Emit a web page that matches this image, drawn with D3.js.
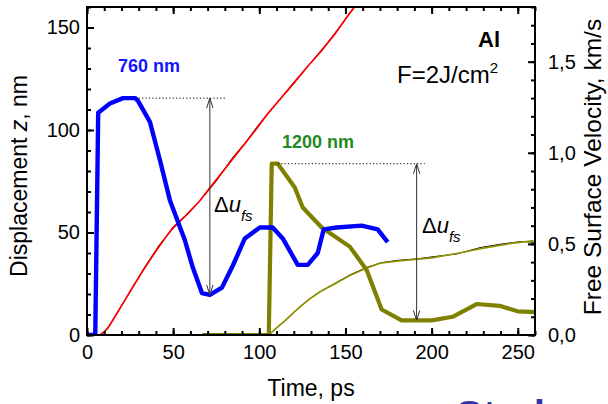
<!DOCTYPE html>
<html>
<head>
<meta charset="utf-8">
<script src="https://cdn.jsdelivr.net/npm/d3@7/dist/d3.min.js"></script>
<style>
  html, body { margin: 0; padding: 0; background: #fff; }
  svg { display: block; font-family: "Liberation Sans", Arial, sans-serif; }
</style>
</head>
<body>
<svg id="chart" width="608" height="404"></svg>
<script>
// Time axis (ps) and tick labels
const timeTicks = [0, 50, 100, 150, 200, 250];
const dispTicks = [0, 50, 100, 150];
const velTicks = [0, 0.5, 1.0, 1.5];
const velTickLabels = ["0,0", "0,5", "1,0", "1,5"];

// Free surface velocity, 760 nm film (km/s)
const blueTime = [0, 4.8, 6.5, 13.3, 20.9, 25, 28, 29.6, 36.5, 42.3, 48.1, 56.8, 61.4, 66.7, 71.3, 78.3, 84.6, 91.6, 100.3, 107.8, 113.6, 122.3, 128.1, 133.9, 137.4, 144.9, 159.4, 168.7, 174.5];
const blueVel  = [0, 0, 1.22, 1.27, 1.30, 1.30, 1.30, 1.285, 1.17, 0.96, 0.74, 0.52, 0.37, 0.23, 0.22, 0.26, 0.38, 0.53, 0.59, 0.59, 0.53, 0.385, 0.385, 0.45, 0.58, 0.59, 0.60, 0.58, 0.51];

// Free surface velocity, 1200 nm film (km/s)
const oliveTime = [67, 105.5, 107.2, 110.7, 120.6, 125.2, 136.2, 152.5, 162.3, 171, 182.6, 200, 212.2, 226.1, 239.4, 249.9, 260];
const oliveVel  = [0, 0, 0.94, 0.94, 0.81, 0.70, 0.59, 0.485, 0.357, 0.14, 0.08, 0.08, 0.10, 0.17, 0.16, 0.13, 0.125];

// Displacement z, 760 nm film: measured (black) and fitted (red), nm
const meas760Time = [7.5, 12, 18, 25, 33, 42, 50, 58, 66, 75, 84, 92, 100, 110, 120, 130, 140, 150, 158];
const meas760Disp = [0, 3, 11.5, 21, 32.5, 44, 52, 58.5, 66, 75, 86, 94, 103, 113, 122.5, 133, 143, 154, 163];
const fit760Time = [7.5, 10, 13, 17, 22, 27, 33, 40, 46, 50, 57, 65, 72, 80, 88, 96, 104, 112, 120, 128, 136, 144, 152, 157];
const fit760Disp = [0, 1.5, 4.5, 10, 17, 24, 32, 41, 48, 52.5, 58, 65, 72.5, 81, 89.5, 98, 107, 115, 123, 131, 138.5, 147, 156.5, 162];

// Displacement z, 1200 nm film: measured (black) and fitted (olive), nm
const meas1200Time = [105.5, 111, 117, 124, 130, 137, 146, 153, 163, 171, 180, 192, 203, 215, 228, 240, 252, 260];
const meas1200Disp = [0, 4.2, 8.5, 14.2, 18, 22, 26.2, 29.5, 33.2, 35.3, 36.4, 37.2, 38.4, 39.6, 42.6, 44.3, 45.6, 45.2];
const fit1200Time = [105.5, 110, 115, 120, 123.5, 129, 135, 145, 152.5, 162, 170, 181, 200, 216, 230, 247, 260];
const fit1200Disp = [0, 3.5, 7, 11, 13.6, 17.5, 21, 25.5, 29, 32.6, 35, 36.2, 37.6, 40, 42.4, 44.8, 46];

const svg = d3.select("#chart");
const frame = { left: 87, right: 535, top: 7, bottom: 335 };

const x = d3.scaleLinear().domain([0, 260]).range([frame.left, frame.right]);
const yL = d3.scaleLinear().domain([0, 160]).range([frame.bottom, frame.top]);
const yR = d3.scaleLinear().domain([0, 1.8]).range([frame.bottom, frame.top]);

const defs = svg.append("defs");
defs.append("clipPath").attr("id", "plotClip")
  .append("rect")
  .attr("x", frame.left).attr("y", frame.top)
  .attr("width", frame.right - frame.left).attr("height", frame.bottom - frame.top);

defs.append("marker")
  .attr("id", "head")
  .attr("viewBox", "0 0 10 10")
  .attr("refX", 10).attr("refY", 5)
  .attr("markerWidth", 10).attr("markerHeight", 10)
  .attr("markerUnits", "userSpaceOnUse")
  .attr("orient", "auto-start-reverse")
  .append("path")
  .attr("d", "M0,1.8 L10,5 L0,8.2")
  .attr("fill", "none")
  .attr("stroke", "#333")
  .attr("stroke-width", 1);

const zip = (a, b) => a.map((v, i) => [v, b[i]]);

const plot = svg.append("g").attr("clip-path", "url(#plotClip)");

const lineL = d3.line().x(d => x(d[0])).y(d => yL(d[1]));
const lineR = d3.line().x(d => x(d[0])).y(d => yR(d[1]));

// displacement curves (left axis)
plot.append("path").datum(zip(meas760Time, meas760Disp))
  .attr("d", lineL).attr("fill", "none").attr("stroke", "#000").attr("stroke-width", 1);
plot.append("path").datum(zip(fit760Time, fit760Disp))
  .attr("d", lineL).attr("fill", "none").attr("stroke", "#ff0000").attr("stroke-width", 1.7);
plot.append("path").datum(zip(meas1200Time, meas1200Disp))
  .attr("d", lineL).attr("fill", "none").attr("stroke", "#000").attr("stroke-width", 1);
plot.append("path").datum(zip(fit1200Time, fit1200Disp))
  .attr("d", lineL).attr("fill", "none").attr("stroke", "#929200").attr("stroke-width", 1.7);

// velocity profiles (right axis)
plot.append("path").datum(zip(oliveTime, oliveVel))
  .attr("d", lineR).attr("fill", "none").attr("stroke", "#808000")
  .attr("stroke-width", 4.2).attr("stroke-linejoin", "round");
plot.append("path").datum(zip(blueTime, blueVel))
  .attr("d", lineR).attr("fill", "none").attr("stroke", "#0000ff")
  .attr("stroke-width", 4.4).attr("stroke-linejoin", "round");

// pullback markers: dotted level + double arrow
const pullbacks = [
  { from: 28, to: 81, at: 71.3, top: 1.30, bottom: 0.22 },
  { from: 110.7, to: 196, at: 191.3, top: 0.94, bottom: 0.08 }
];
pullbacks.forEach(p => {
  svg.append("line")
    .attr("x1", x(p.from)).attr("x2", x(p.to))
    .attr("y1", yR(p.top)).attr("y2", yR(p.top))
    .attr("stroke", "#000").attr("stroke-width", 1)
    .attr("stroke-dasharray", "1.2,2.2");
  svg.append("line")
    .attr("x1", x(p.at)).attr("x2", x(p.at))
    .attr("y1", yR(p.top)).attr("y2", yR(p.bottom))
    .attr("stroke", "#333").attr("stroke-width", 1)
    .attr("marker-start", "url(#head)").attr("marker-end", "url(#head)");
});

// axes
function styleAxis(g) {
  g.select(".domain").remove();
  g.selectAll(".tick line").attr("stroke", "#000").attr("stroke-width", 2);
  g.selectAll(".tick text").attr("fill", "#000")
    .style("font-family", "'Liberation Sans', Arial, sans-serif")
    .style("font-size", "20px");
}

const minorTime = d3.range(0, 261, 10);
const minorDisp = d3.range(0, 161, 10);
const minorVel = d3.range(0, 18.01, 1).map(v => v / 10);

svg.append("g").attr("transform", `translate(0,${frame.bottom})`)
  .call(d3.axisBottom(x).tickValues(minorTime).tickFormat("").tickSize(-4).tickSizeOuter(0)).call(styleAxis);
svg.append("g").attr("transform", `translate(0,${frame.bottom})`)
  .call(d3.axisBottom(x).tickValues(timeTicks).tickFormat(d3.format("d")).tickSize(-7).tickPadding(10).tickSizeOuter(0)).call(styleAxis);

svg.append("g").attr("transform", `translate(0,${frame.top})`)
  .call(d3.axisTop(x).tickValues(minorTime).tickFormat("").tickSize(-4).tickSizeOuter(0)).call(styleAxis);
svg.append("g").attr("transform", `translate(0,${frame.top})`)
  .call(d3.axisTop(x).tickValues(timeTicks).tickFormat("").tickSize(-7).tickSizeOuter(0)).call(styleAxis);

svg.append("g").attr("transform", `translate(${frame.left},0)`)
  .call(d3.axisLeft(yL).tickValues(minorDisp).tickFormat("").tickSize(-4).tickSizeOuter(0)).call(styleAxis);
svg.append("g").attr("transform", `translate(${frame.left},0)`)
  .call(d3.axisLeft(yL).tickValues(dispTicks).tickFormat(d3.format("d")).tickSize(-7).tickPadding(7).tickSizeOuter(0)).call(styleAxis);

svg.append("g").attr("transform", `translate(${frame.right},0)`)
  .call(d3.axisRight(yR).tickValues(minorVel).tickFormat("").tickSize(-4).tickSizeOuter(0)).call(styleAxis);
svg.append("g").attr("transform", `translate(${frame.right},0)`)
  .call(d3.axisRight(yR).tickValues(velTicks).tickFormat((d, i) => velTickLabels[i]).tickSize(-7).tickPadding(13).tickSizeOuter(0)).call(styleAxis);

// frame
svg.append("rect")
  .attr("x", frame.left).attr("y", frame.top)
  .attr("width", frame.right - frame.left).attr("height", frame.bottom - frame.top)
  .attr("fill", "none").attr("stroke", "#000").attr("stroke-width", 2);

// axis titles
svg.append("text")
  .attr("x", 311).attr("y", 396)
  .attr("text-anchor", "middle")
  .style("font-size", "23px")
  .text("Time, ps");

const yTitle = svg.append("text")
  .attr("transform", "translate(27,176) rotate(-90)")
  .attr("text-anchor", "middle")
  .style("font-size", "23px");
yTitle.append("tspan").text("Displacement ");
yTitle.append("tspan").style("font-style", "italic").text("z");
yTitle.append("tspan").text(", nm");

svg.append("text")
  .attr("transform", "translate(601,167) rotate(-90)")
  .attr("text-anchor", "middle")
  .style("font-size", "24.5px")
  .text("Free Surface Velocity, km/s");

// annotations
svg.append("text").attr("x", 500).attr("y", 47).attr("text-anchor", "end")
  .style("font-size", "22px").style("font-weight", "bold").text("Al");

const fl = svg.append("text").attr("x", 397).attr("y", 83).style("font-size", "24px");
fl.append("tspan").text("F=2J/cm");
fl.append("tspan").attr("dy", -10).style("font-size", "15px").text("2");

svg.append("text").attr("x", 118).attr("y", 72)
  .style("font-size", "18px").style("font-weight", "bold").attr("fill", "#1414ff").text("760 nm");
svg.append("text").attr("x", 282).attr("y", 148)
  .style("font-size", "18px").style("font-weight", "bold").attr("fill", "#1f8a1f").text("1200 nm");

function deltaLabel(px, py) {
  const t = svg.append("text").attr("x", px).attr("y", py).style("font-size", "22px");
  t.append("tspan").text("\u0394");
  t.append("tspan").style("font-style", "italic").text("u");
  t.append("tspan").attr("dy", 9).style("font-size", "15px").style("font-style", "italic").text("fs");
}
deltaLabel(214, 212);
deltaLabel(422, 233);

// site mark along the lower edge (only its top shows)
svg.append("text").attr("x", 456).attr("y", 429)
  .style("font-size", "40px").style("font-weight", "bold")
  .attr("fill", "#3434a4").text("Studopedia");
</script>
</body>
</html>
